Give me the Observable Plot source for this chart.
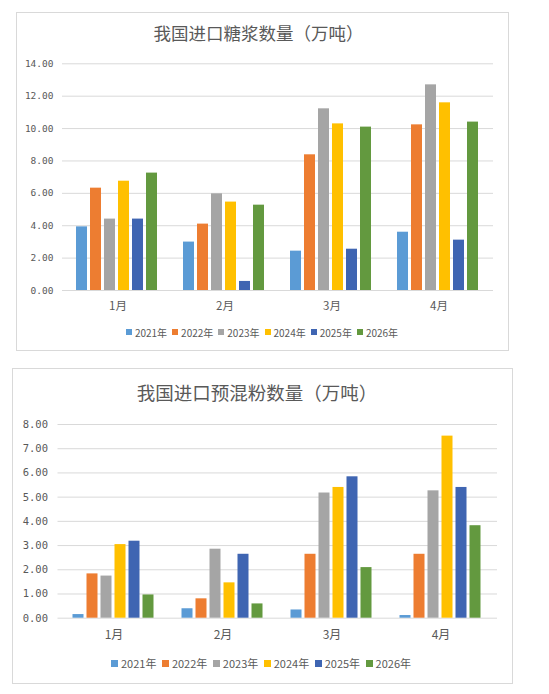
<!DOCTYPE html>
<html><head><meta charset="utf-8">
<script src="https://cdn.jsdelivr.net/npm/d3@7"></script>
<script src="https://cdn.jsdelivr.net/npm/@observablehq/plot@0.6"></script>
<style>
body{margin:0;background:#fff;width:549px;height:694px;position:relative;overflow:hidden;font-family:"Noto Sans CJK SC","Noto Sans",sans-serif;}
.box{position:absolute;border:1px solid #d9d9d9;box-sizing:border-box;background:#fff;}
.title{position:absolute;text-align:center;color:#595959;white-space:nowrap;}
.layer{position:absolute;}
.legend{position:absolute;display:flex;justify-content:center;align-items:center;color:#595959;white-space:nowrap;}
.legend .item{display:flex;align-items:center;}
.legend .sw{display:inline-block;}
</style>
</head><body>
<script>
// ---- data ----
const months = ["1月", "2月", "3月", "4月"];
const years = ["2021年", "2022年", "2023年", "2024年", "2025年", "2026年"];
const colors = ["#5B9BD5", "#ED7D31", "#A5A5A5", "#FFC000", "#3F65B2", "#63993F"];

// 糖浆 (万吨) per year, months 1-4
const syrup2021 = [3.93, 2.99, 2.43, 3.60];
const syrup2022 = [6.32, 4.10, 8.38, 10.23];
const syrup2023 = [4.41, 5.97, 11.22, 12.70];
const syrup2024 = [6.75, 5.46, 10.29, 11.59];
const syrup2025 = [4.41, 0.56, 2.55, 3.11];
const syrup2026 = [7.25, 5.27, 10.09, 10.40];

// 预混粉 (万吨) per year, months 1-4
const premix2021 = [0.15, 0.39, 0.34, 0.11];
const premix2022 = [1.83, 0.80, 2.64, 2.64];
const premix2023 = [1.74, 2.85, 5.17, 5.26];
const premix2024 = [3.04, 1.46, 5.40, 7.52];
const premix2025 = [3.18, 2.64, 5.84, 5.40];
const premix2026 = [0.96, 0.59, 2.09, 3.82];

const syrupTicks = [0, 2, 4, 6, 8, 10, 12, 14];
const premixTicks = [0, 1, 2, 3, 4, 5, 6, 7, 8];

function table(series) {
  const rows = [];
  years.forEach((y, i) => months.forEach((m, j) => rows.push({month: m, year: y, value: series[i][j]})));
  return rows;
}

const syrupData = table([syrup2021, syrup2022, syrup2023, syrup2024, syrup2025, syrup2026]);
const premixData = table([premix2021, premix2022, premix2023, premix2024, premix2025, premix2026]);

function el(cls, css, html) {
  const d = document.createElement("div");
  d.className = cls;
  Object.assign(d.style, css);
  if (html) d.innerHTML = html;
  document.body.appendChild(d);
  return d;
}

function chart(c) {
  el("box", {left: c.box[0] + "px", top: c.box[1] + "px", width: c.box[2] + "px", height: c.box[3] + "px"});
  el("title", {left: "0px", width: (2 * c.titleX) + "px", top: (c.titleY - 15) + "px", lineHeight: "30px", fontSize: c.titleSize + "px"}, c.title);

  const common = {
    width: c.svg[2], height: c.svg[3],
    marginLeft: c.m[0], marginRight: c.m[1], marginTop: c.m[2], marginBottom: c.m[3],
    style: {background: "transparent", overflow: "visible"}
  };

  // back layer: grid, y axis, month labels
  const back = Plot.plot({
    ...common,
    x: {type: "band", domain: months, padding: 0, label: null},
    y: {domain: [0, c.ticks[c.ticks.length - 1]], ticks: c.ticks, label: null},
    marks: [
      Plot.ruleY(c.ticks, {stroke: "#d9d9d9", strokeWidth: 1}),
      Plot.axisY({ticks: c.ticks, tickSize: 0, tickPadding: c.yPad, tickFormat: d3.format(".2f"),
        fontFamily: "DejaVu Sans Mono", fontSize: c.yFont, fill: "#595959", label: null}),
      Plot.axisX({tickSize: 0, tickPadding: c.xPad, fontSize: c.xFont, fill: "#595959", label: null,
        fontFamily: "Noto Sans CJK SC"})
    ]
  });
  const b = el("layer", {left: c.svg[0] + "px", top: c.svg[1] + "px"});
  b.appendChild(back);

  // front layer: grouped bars
  const front = Plot.plot({
    ...common,
    fx: {domain: months, paddingInner: c.fxPad, paddingOuter: c.fxPad / 2, axis: null, label: null},
    x: {domain: years, paddingInner: c.xInner, paddingOuter: 0, axis: null},
    y: {domain: [0, c.ticks[c.ticks.length - 1]], axis: null},
    color: {domain: years, range: colors},
    marks: [
      Plot.barY(c.data, {fx: "month", x: "year", y: "value", fill: "year", insetLeft: 0, insetRight: 0})
    ]
  });
  const f = el("layer", {left: c.svg[0] + "px", top: c.svg[1] + "px"});
  f.appendChild(front);

  // legend
  const lg = el("legend", {left: "0px", width: (2 * c.legX) + "px", top: (c.legY - 10) + "px", height: "20px", fontSize: c.legFont + "px", gap: c.legGap + "px"});
  years.forEach((y, i) => {
    const it = document.createElement("div");
    it.className = "item";
    it.innerHTML = `<span class="sw" style="width:${c.sw}px;height:${c.sw}px;background:${colors[i]};margin-right:3px"></span><span>${y}</span>`;
    lg.appendChild(it);
  });
}

chart({
  box: [16, 12, 493, 339],
  title: "我国进口糖浆数量（万吨）", titleX: 258.5, titleY: 33, titleSize: 17.5,
  svg: [16, 45, 492, 275], m: [46, 15, 18.3, 30],
  ticks: syrupTicks, data: syrupData,
  yPad: 9, yFont: 9.5, xPad: 11, xFont: 11.5,
  fxPad: 0.23, xInner: 0.19,
  legX: 262, legY: 332, legFont: 10, legGap: 5, sw: 6
});

chart({
  box: [12, 368, 501, 316],
  title: "我国进口预混粉数量（万吨）", titleX: 257, titleY: 392, titleSize: 18.5,
  svg: [12, 405, 500, 245], m: [45.5, 15, 19, 32.3],
  ticks: premixTicks, data: premixData,
  yPad: 10, yFont: 10.5, xPad: 12, xFont: 12,
  fxPad: 0.234, xInner: 0.2,
  legX: 261, legY: 663, legFont: 11, legGap: 5.5, sw: 7
});
</script>
</body></html>
